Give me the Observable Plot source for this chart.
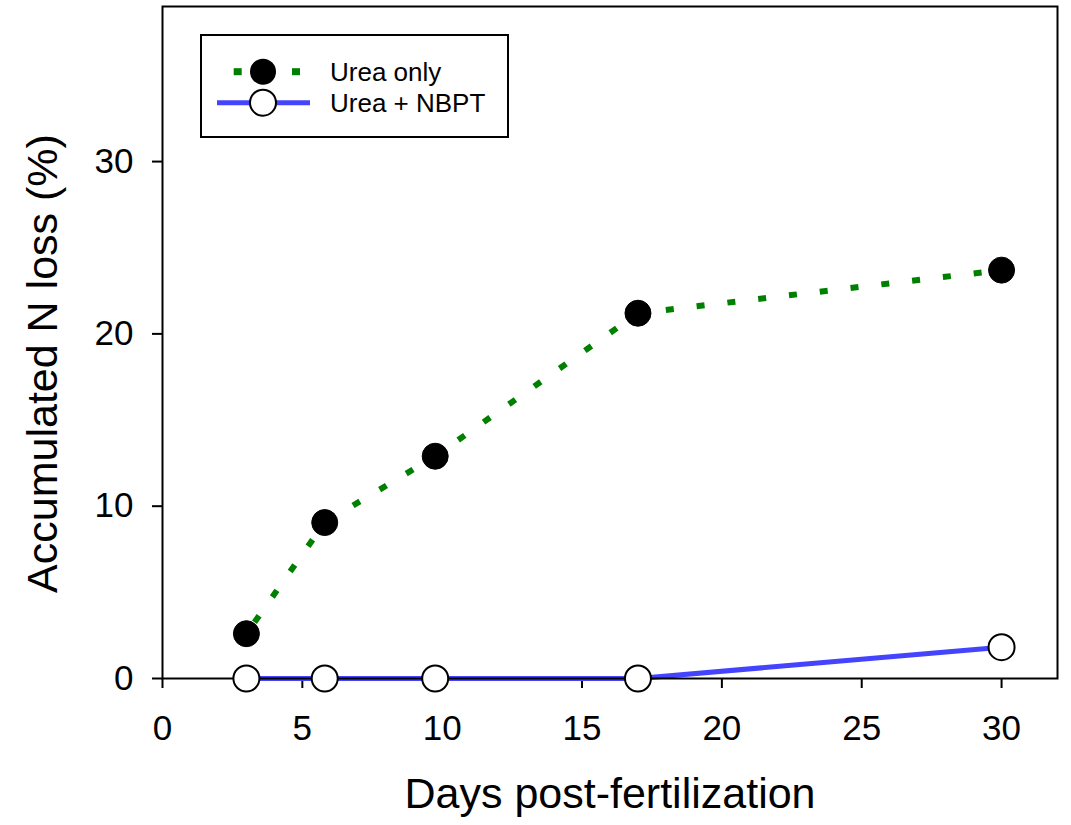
<!DOCTYPE html>
<html>
<head>
<meta charset="utf-8">
<script src="https://cdn.jsdelivr.net/npm/d3@7"></script>
<script src="https://cdn.jsdelivr.net/npm/@observablehq/plot@0.6"></script>
<style>
  html, body { margin: 0; padding: 0; background: #fff; }
  #chart { width: 1071px; height: 825px; }
</style>
</head>
<body>
<div id="chart"></div>
<script>
const days = [3, 5.8, 9.75, 17, 30];
const ureaOnly = [2.6, 9.05, 12.9, 21.2, 23.7];
const ureaNBPT = [0, 0, 0, 0, 1.82];
const seriesNames = ["Urea only", "Urea + NBPT"];
const xTicks = [0, 5, 10, 15, 20, 25, 30];
const yTicks = [0, 10, 20, 30];
const xTitle = "Days post-fertilization";
const yTitle = "Accumulated N loss (%)";

const green = "#008000";
const blue = "#4444ff";

const d1 = days.map((d, i) => ({day: d, v: ureaOnly[i], s: seriesNames[0]}));
const d2 = days.map((d, i) => ({day: d, v: ureaNBPT[i], s: seriesNames[1]}));

const font = "'Liberation Sans', Arial, Helvetica, sans-serif";

const plot = Plot.plot({
  width: 1071,
  height: 825,
  marginLeft: 162,
  marginRight: 14,
  marginTop: 6,
  marginBottom: 147,
  x: {domain: [0, 32]},
  y: {domain: [0, 39]},
  style: {fontFamily: font, background: "white", color: "black"},
  marks: [
    Plot.axisX({ticks: xTicks, tickSize: 10, tickPadding: 27, fontSize: 35, label: null, strokeWidth: 2}),
    Plot.axisY({ticks: yTicks, tickSize: 10, tickPadding: 19, fontSize: 35, label: null, strokeWidth: 2}),
    Plot.line(d1, {x: "day", y: "v", stroke: green, strokeWidth: 6, strokeDasharray: "8,23", strokeLinecap: "butt", strokeDashoffset: -14}),
    Plot.line(d2, {x: "day", y: "v", stroke: blue, strokeWidth: 5, strokeLinecap: "butt"}),
    Plot.frame({stroke: "black", strokeWidth: 2}),
    Plot.dot(d1, {x: "day", y: "v", r: 13, fill: "black", stroke: "black", strokeWidth: 1}),
    Plot.dot(d2, {x: "day", y: "v", r: 13, fill: "white", stroke: "black", strokeWidth: 2}),
    Plot.text([xTitle], {frameAnchor: "bottom", textAnchor: "middle", lineAnchor: "middle", dy: 116, fontSize: 43, fill: "black"}),
    Plot.text([yTitle], {frameAnchor: "left", textAnchor: "middle", lineAnchor: "middle", dx: -119, dy: 21, rotate: -90, fontSize: 43, fill: "black"})
  ]
});

document.getElementById("chart").appendChild(plot);

// Legend drawn into the plot's SVG
const svg = d3.select(plot);
const lg = svg.append("g").attr("font-family", font).attr("font-size", 26).attr("text-anchor", "start");
lg.append("rect").attr("x", 201).attr("y", 35).attr("width", 307).attr("height", 102)
  .attr("fill", "white").attr("stroke", "black").attr("stroke-width", 2);
// row 1
[237.7, 296].forEach(cx => {
  lg.append("rect").attr("x", cx - 4).attr("y", 71.7 - 3.5).attr("width", 8).attr("height", 7).attr("fill", green);
});
lg.append("circle").attr("cx", 263).attr("cy", 71.7).attr("r", 13).attr("fill", "black");
lg.append("text").attr("x", 330).attr("y", 80.5).attr("text-anchor", "start").attr("fill", "black").text(seriesNames[0]);
// row 2
lg.append("line").attr("x1", 217).attr("x2", 310).attr("y1", 102.7).attr("y2", 102.7)
  .attr("stroke", blue).attr("stroke-width", 5);
lg.append("circle").attr("cx", 263).attr("cy", 102.7).attr("r", 13).attr("fill", "white")
  .attr("stroke", "black").attr("stroke-width", 2);
lg.append("text").attr("x", 330).attr("y", 112).attr("text-anchor", "start").attr("fill", "black").text(seriesNames[1]);
</script>
</body>
</html>
